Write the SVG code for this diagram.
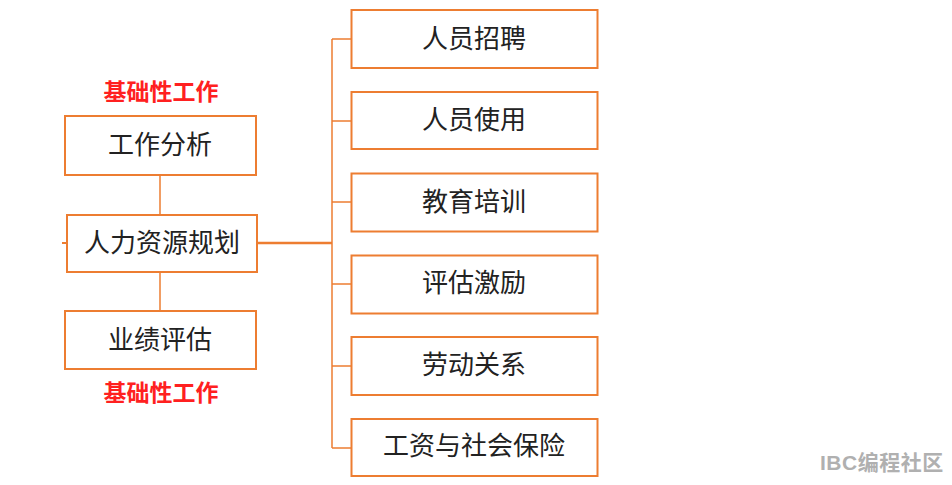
<svg xmlns="http://www.w3.org/2000/svg" width="952" height="485" viewBox="0 0 952 485">
<style>
.box{fill:#fff;stroke:#ED7D31;stroke-width:2}
.t{font-family:"Liberation Sans","Noto Sans CJK SC",sans-serif;font-size:26px;fill:#222;text-anchor:middle;dominant-baseline:central}
.red{font-family:"Liberation Sans","Noto Sans CJK SC",sans-serif;font-size:23px;font-weight:bold;fill:#FF2020;text-anchor:middle;dominant-baseline:central}
.ln{stroke:#ED7D31;stroke-width:1.5;fill:none}
.wm{font-family:"Liberation Sans","Noto Sans CJK SC",sans-serif;font-size:21px;font-weight:bold;fill:#b0b0b0;dominant-baseline:central;letter-spacing:0.5px}
</style>
<rect width="952" height="485" fill="#fff"/>
<g id="connectors">
<line class="ln" x1="160" y1="175" x2="160" y2="215"/>
<line class="ln" x1="160" y1="272" x2="160" y2="311"/>
<line class="ln" x1="62" y1="243" x2="67" y2="243" style="stroke-width:2"/>
<line class="ln" x1="257" y1="243" x2="332" y2="243" style="stroke-width:2.5"/>
<line class="ln" x1="332" y1="39" x2="332" y2="448"/>
<line class="ln" x1="332" y1="39" x2="351" y2="39"/>
<line class="ln" x1="332" y1="121" x2="351" y2="121"/>
<line class="ln" x1="332" y1="202" x2="351" y2="202"/>
<line class="ln" x1="332" y1="284" x2="351" y2="284"/>
<line class="ln" x1="332" y1="366" x2="351" y2="366"/>
<line class="ln" x1="332" y1="448" x2="351" y2="448"/>
</g>
<g id="label-top"><text class="red" x="161" y="92">基础性工作</text></g>
<g id="label-bottom"><text class="red" x="161" y="393">基础性工作</text></g>
<g id="n-gzfx"><rect class="box" x="65" y="116" width="191" height="59"/><text class="t" x="160" y="145">工作分析</text></g>
<g id="n-rlzygh"><rect class="box" x="67" y="215" width="190" height="57"/><text class="t" x="162" y="243">人力资源规划</text></g>
<g id="n-yjpg"><rect class="box" x="65" y="311" width="191" height="58"/><text class="t" x="160" y="340">业绩评估</text></g>
<g id="n-ryzp"><rect class="box" x="351.5" y="10" width="246" height="58"/><text class="t" x="474" y="39">人员招聘</text></g>
<g id="n-rysy"><rect class="box" x="351.5" y="92" width="246" height="57"/><text class="t" x="474" y="120">人员使用</text></g>
<g id="n-jypx"><rect class="box" x="351.5" y="173.5" width="246" height="58"/><text class="t" x="474" y="202">教育培训</text></g>
<g id="n-pgjl"><rect class="box" x="351.5" y="255.5" width="246" height="58"/><text class="t" x="474" y="283">评估激励</text></g>
<g id="n-ldgx"><rect class="box" x="351.5" y="337" width="246" height="58"/><text class="t" x="474" y="365">劳动关系</text></g>
<g id="n-gzsb"><rect class="box" x="351.5" y="419" width="246" height="57"/><text class="t" x="474" y="446">工资与社会保险</text></g>
<text class="wm" x="820" y="462">IBC编程社区</text>
</svg>
